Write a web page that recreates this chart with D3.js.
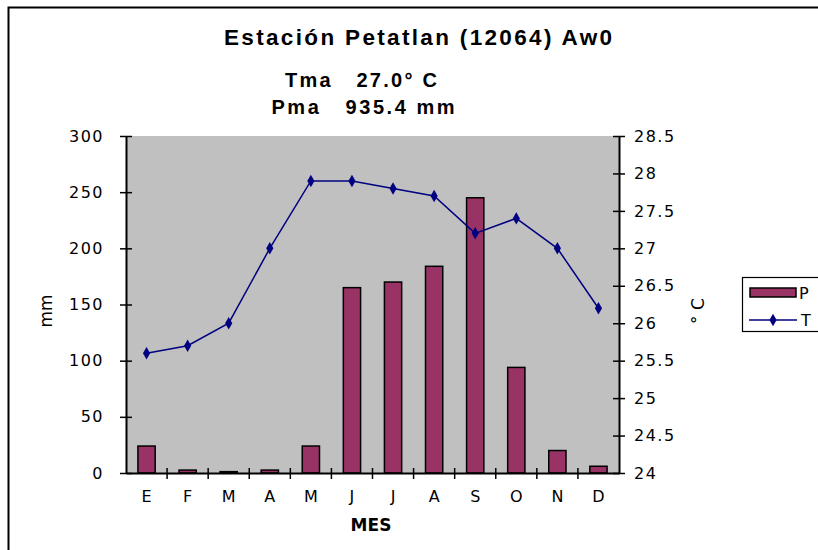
<!DOCTYPE html>
<html><head><meta charset="utf-8">
<script src="https://cdn.jsdelivr.net/npm/d3@7"></script>
<style>
html,body{margin:0;padding:0;background:#fff;}
svg{display:block;font-family:"Liberation Sans",Arial,sans-serif;}
</style></head>
<body>
<svg id="c" width="818" height="550"></svg>
<script>
const months = ["E","F","M","A","M","J","J","A","S","O","N","D"];
const precip = [24, 2.6, 1.2, 2.6, 24, 165, 170, 184, 245, 94, 20, 6];
const temp = [25.6, 25.7, 26.0, 27.0, 27.9, 27.9, 27.8, 27.7, 27.2, 27.4, 27.0, 26.2];
const leftTicks = [0, 50, 100, 150, 200, 250, 300];
const rightTicks = [24, 24.5, 25, 25.5, 26, 26.5, 27, 27.5, 28, 28.5];
const titleText = "Estación Petatlan (12064) Aw0";
const subTexts = ["Tma   27.0° C", "Pma   935.4 mm"];

const svg = d3.select("#c");
const L = 126, R = 619, T = 136, B = 473;
const tickFont = "DejaVu Sans, Verdana, sans-serif";

// frame
svg.append("rect").attr("x", 8.5).attr("y", 7.5).attr("width", 830).attr("height", 560)
  .attr("fill", "#fff").attr("stroke", "#000").attr("stroke-width", 2);

const x = d3.scaleBand().domain(d3.range(months.length)).range([L, R]).padding(0);
const yL = d3.scaleLinear().domain([0, 300]).range([B, T]);
const yR = d3.scaleLinear().domain([24, 28.5]).range([B, T]);

// plot background
svg.append("rect").attr("x", L).attr("y", T).attr("width", R - L).attr("height", B - T).attr("fill", "#c0c0c0");

// bars
const bw = x.bandwidth() * 0.42;
svg.append("g").selectAll("rect").data(precip).join("rect")
  .attr("x", (d, i) => x(i) + (x.bandwidth() - bw) / 2)
  .attr("y", d => yL(d))
  .attr("width", bw)
  .attr("height", d => yL(0) - yL(d))
  .attr("fill", "#993366").attr("stroke", "#000").attr("stroke-width", 1.5);

// line
const line = d3.line().x((d, i) => x(i) + x.bandwidth() / 2).y(d => yR(d));
svg.append("path").datum(temp).attr("d", line).attr("fill", "none")
  .attr("stroke", "#000080").attr("stroke-width", 1.5);
svg.append("g").selectAll("path").data(temp).join("path")
  .attr("transform", (d, i) => `translate(${x(i) + x.bandwidth() / 2},${yR(d)})`)
  .attr("d", d3.symbol(d3.symbolDiamond).size(45)).attr("fill", "#000080");

// left axis
const gL = svg.append("g").attr("transform", `translate(${L},0)`)
  .call(d3.axisLeft(yL).tickValues(leftTicks).tickSize(6).tickSizeOuter(0).tickPadding(16));
gL.select(".domain").attr("stroke-width", 2);
gL.selectAll(".tick line").attr("x1", 6).attr("x2", -6).attr("stroke-width", 1.5);
gL.selectAll(".tick text").attr("font-size", 16).attr("font-family", tickFont)
  .attr("letter-spacing", 1.5).attr("fill", "#000");

// right axis
const gR = svg.append("g").attr("transform", `translate(${R},0)`)
  .call(d3.axisRight(yR).tickValues(rightTicks).tickFormat(d => String(d)).tickSize(6).tickSizeOuter(0).tickPadding(9));
gR.select(".domain").attr("stroke-width", 2);
gR.selectAll(".tick line").attr("x1", -6).attr("x2", 6).attr("stroke-width", 1.5);
gR.selectAll(".tick text").attr("font-size", 16).attr("font-family", tickFont)
  .attr("letter-spacing", 1.5).attr("fill", "#000");

// bottom axis (labels)
const gB = svg.append("g").attr("transform", `translate(0,${B})`)
  .call(d3.axisBottom(x).tickFormat(i => months[i]).tickSize(0).tickPadding(18));
gB.select(".domain").attr("stroke-width", 2);
gB.selectAll(".tick text").attr("font-size", 16).attr("font-family", tickFont).attr("fill", "#000");
// boundary ticks
svg.append("g").selectAll("line").data(d3.range(1, months.length)).join("line")
  .attr("x1", i => x(i)).attr("x2", i => x(i))
  .attr("y1", B - 5).attr("y2", B + 6).attr("stroke", "#000").attr("stroke-width", 1.5);

// titles
svg.append("text").attr("x", 418).attr("y", 45).attr("text-anchor", "middle")
  .attr("font-size", 22.5).attr("font-weight", "bold").attr("textLength", 388).attr("lengthAdjust", "spacing")
  .text(titleText);
svg.append("text").attr("x", 361).attr("y", 87).attr("text-anchor", "middle").style("white-space", "pre")
  .attr("font-size", 20).attr("font-weight", "bold").attr("textLength", 152).attr("lengthAdjust", "spacing")
  .text(subTexts[0]);
svg.append("text").attr("x", 363).attr("y", 114).attr("text-anchor", "middle").style("white-space", "pre")
  .attr("font-size", 20).attr("font-weight", "bold").attr("textLength", 183).attr("lengthAdjust", "spacing")
  .text(subTexts[1]);

// axis titles
svg.append("text").attr("transform", "translate(52,311) rotate(-90)").attr("text-anchor", "middle")
  .attr("font-size", 17).attr("font-family", tickFont).text("mm");
svg.append("text").attr("transform", "translate(704,311) rotate(-90)").attr("text-anchor", "middle")
  .attr("font-size", 17).attr("font-family", tickFont).text("° C");
svg.append("text").attr("x", 371).attr("y", 531).attr("text-anchor", "middle")
  .attr("font-size", 17).attr("font-weight", "bold").attr("font-family", tickFont).text("MES");

// legend
const lg = svg.append("g");
lg.append("rect").attr("x", 742.5).attr("y", 277.5).attr("width", 100).attr("height", 54)
  .attr("fill", "#fff").attr("stroke", "#000").attr("stroke-width", 1.2);
lg.append("rect").attr("x", 750).attr("y", 288).attr("width", 46).attr("height", 9)
  .attr("fill", "#993366").attr("stroke", "#000").attr("stroke-width", 1.5);
lg.append("text").attr("x", 799).attr("y", 299).attr("font-size", 16).attr("font-family", tickFont).text("P");
lg.append("line").attr("x1", 749).attr("x2", 797).attr("y1", 320).attr("y2", 320)
  .attr("stroke", "#000080").attr("stroke-width", 1.5);
lg.append("path").attr("transform", "translate(773,320)")
  .attr("d", d3.symbol(d3.symbolDiamond).size(45)).attr("fill", "#000080");
lg.append("text").attr("x", 801).attr("y", 326).attr("font-size", 16).attr("font-family", tickFont).text("T");
</script>
</body></html>
